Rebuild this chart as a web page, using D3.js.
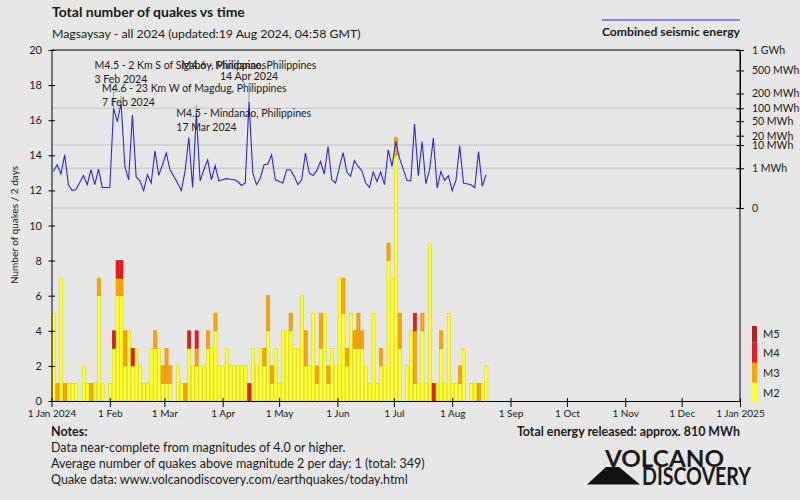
<!DOCTYPE html>
<html><head><meta charset="utf-8">
<script src="https://cdn.jsdelivr.net/npm/d3@7"></script>
<style>
body{margin:0;background:#e6e6e6}
svg{display:block}
text{font-family:Lato,"Open Sans","Noto Sans",sans-serif;fill:#1a1a1a}
</style>
</head><body>
<svg id="c" width="800" height="500"></svg>
<script>
// ---------- DATA ----------
const binStart = "2024-01-01";   // bins of 2 days
const m2Counts = [5,0,7,0,1,1,1,0,2,1, 0,1,6,1,0,1,3,6,6,2, 4,2,3,2,1,1,3,3,3,1,
  1,1,0,2,1,0,3,2,2,2, 2,3,3,4,2,2,3,2,2,2, 2,2,0,3,2,3,2,4,1,3, 1,4,4,4,3,3,6,2,2,5,
  1,3,5,1,3,2,7,5,2,5, 3,3,3,2,1,5,1,2,2,8, 7,14,3,0,2,4,1,1,4,1, 9,0,1,3,1,5,1,1,1,3, 0,1,1,0,1,2];
const m3Counts = [0,1,0,1,0,0,0,0,0,0, 1,0,1,0,0,0,0,1,1,2, 0,0,0,0,0,0,0,1,0,1,
  2,1,0,0,0,1,0,0,1,0, 0,1,0,1,0,0,0,0,0,0, 0,0,0,0,0,0,1,2,1,0, 0,0,0,1,0,0,0,2,0,0,
  1,2,0,1,0,0,0,2,1,0, 1,2,1,0,0,0,0,1,0,1, 0,1,2,0,0,0,3,0,1,0, 0,0,0,1,0,0,0,0,1,0, 0,0,0,1,0,0];
const m4Counts = [0,0,0,0,0,0,0,0,0,0, 0,0,0,0,0,0,1,1,1,0, 0,1,0,0,0,0,0,0,0,0,
  0,0,0,0,0,0,1,0,1,0, 0,0,0,0,0,0,0,0,0,0, 0,0,1,0,0,0,0,0,0,0, 0,0,0,0,0,0,0,0,0,0,
  0,0,0,0,0,0,0,0,0,0, 0,0,0,0,0,0,0,0,0,0, 0,0,0,0,0,0,1,0,0,0, 0,1,0,0,0,0,0,0,0,0, 0,0,0,0,0,0];
// combined seismic energy per bin, MWh (null = no quakes)
const energyMWh = [0.66,1.53,0.46,4.3,0.069,0.016,0.021,null,0.37,0.069,
  0.83,0.069,0.91,0.037,null,0.037,100,49,128,1.25,
  0.18,71,0.29,0.15,0.016,0.41,0.098,6.2,0.37,1.53,
  5.1,0.83,null,0.10,0.016,0.66,17.6,0.037,78,0.15,
  0.83,2.6,0.18,1.36,0.15,0.18,0.22,0.20,0.18,0.13,
  0.059,0.098,138,0.53,0.069,0.24,1.53,1.66,4.3,0.18,
  0.13,0.098,0.83,0.83,0.32,0.069,0.18,5.1,0.53,0.37,
  0.73,2.2,0.46,8.9,0.18,0.098,1.07,5.3,0.61,0.32,
  2.4,1.25,0.73,0.098,0.037,0.61,0.13,0.61,0.069,6.8,
  1.25,13.2,3.1,null,0.16,0.15,43,0.35,13.2,0.085,
  0.83,16.9,0.032,0.66,0.16,0.35,0.016,0.16,9.4,0.098,
  null,0.069,0.035,5.8,0.047,0.41];
const countTicks = [0,2,4,6,8,10,12,14,16,18,20];
const monthLabels = ["1 Jan 2024","1 Feb","1 Mar","1 Apr","1 May","1 Jun","1 Jul","1 Aug","1 Sep","1 Oct","1 Nov","1 Dec","1 Jan 2025"];
const energyTicks = [0,1,10,20,50,100,200,500,1000];
const energyTickLabels = ["0","1 MWh","10 MWh","20 MWh","50 MWh","100 MWh","200 MWh","500 MWh","1 GWh"];
const energyGrid = [0,1,10,100];
const annTitles = ["M4.5 - 2 Km S of Sigaboy, Philippines","M4.6 - 23 Km W of Magdug, Philippines","M4.5 - Mindanao, Philippines","M4.6 - Mindanao, Philippines"];
const annDates = ["3 Feb 2024","7 Feb 2024","17 Mar 2024","14 Apr 2024"];
const annBins = [16,18,38,52];
const magLabels = ["M2","M3","M4","M5"];
const notes = ["Data near-complete from magnitudes of 4.0 or higher.",
  "Average number of quakes above magnitude 2 per day: 1 (total: 349)",
  "Quake data: www.volcanodiscovery.com/earthquakes/today.html"];

// ---------- LAYOUT / STYLE ----------
const annLayout = [ {dx:-19, anchor:"start", y:69, top:86},
                    {dx:-19, anchor:"start", y:92, top:96},
                    {dx:-20, anchor:"start", y:117, top:105},
                    {dx:0, anchor:"middle", y:69, top:83} ];
const magColors = ["#ffff33","#ffa500","#ee1a1a","#b22222"];
const magStroke = ["#d6d61c","#d88c00","#c01010","#901a1a"];

const svg = d3.select("#c");
svg.append("rect").attr("width",800).attr("height",500).attr("fill","#e6e6e6");

const t0 = d3.utcParse("%Y-%m-%d")(binStart);
const x = d3.scaleUtc().domain([t0, d3.utcYear.offset(t0,1)]).range([51.5,740]);
const y = d3.scaleLinear().domain([0,20]).range([401,50]);
const e = d3.scalePow().exponent(0.2).domain([0,1000]).range([y(11), y(20)]);

// gridlines
svg.append("g").selectAll("line").data(energyGrid).join("line")
  .attr("x1",x.range()[0]).attr("x2",x.range()[1])
  .attr("y1",d=>e(d)).attr("y2",d=>e(d))
  .attr("stroke","#cdcdcd").attr("stroke-width",1.5);

// bars
const bins = m2Counts.map((v,i)=>({i, s:d3.utcDay.offset(t0,2*i), t:d3.utcDay.offset(t0,2*i+2),
  m2:v, m3:m3Counts[i], m4:m4Counts[i], en:energyMWh[i]}));
const keys = ["m2","m3","m4"];
const stacked = d3.stack().keys(keys)(bins);
svg.append("g").selectAll("g").data(stacked).join("g")
  .attr("fill",(d,i)=>magColors[i]).attr("stroke",(d,i)=>magStroke[i]).attr("stroke-width",0.6)
  .selectAll("rect").data(d=>d.filter(p=>p[1]>p[0])).join("rect")
  .attr("x",p=>x(p.data.s)+0.6).attr("width",p=>x(p.data.t)-x(p.data.s)-0.6)
  .attr("y",p=>y(p[1])).attr("height",p=>y(p[0])-y(p[1]));

// energy line
const cx = b => (x(b.s)+x(b.t))/2;
const lineData = bins.filter(b=>b.en!=null);
svg.append("path").datum(lineData)
  .attr("d", d3.line().x(cx).y(b=>e(b.en)))
  .attr("fill","none").attr("stroke","#2a2ac4").attr("stroke-width",1.1);

// annotations
annBins.forEach((bi,k)=>{
  const b = bins[bi], L = annLayout[k], px = cx(b);
  svg.append("line").attr("x1",px).attr("x2",px).attr("y1",L.top).attr("y2",e(b.en))
    .attr("stroke","#9a9a9a").attr("stroke-width",1);
  const g = svg.append("g").attr("font-size",10.5);
  g.append("text").attr("x",px+L.dx).attr("y",L.y).attr("text-anchor",L.anchor).text(annTitles[k]).attr("fill","#333");
  g.append("text").attr("x",px+L.dx).attr("y",L.y+(L.anchor==="middle"?11:13.5)).attr("text-anchor",L.anchor).text(annDates[k]).attr("fill","#333");
});

// axes
const gl = svg.append("g").attr("transform","translate(51.5,0)")
  .call(d3.axisLeft(y).tickValues(countTicks).tickSize(3).tickPadding(6.5).tickSizeOuter(0));
gl.selectAll(".tick line").attr("x1",3.5);
const gr = svg.append("g").attr("transform","translate(740,0)")
  .call(d3.axisRight(e).tickValues(energyTicks).tickFormat((d,i)=>energyTickLabels[i]).tickSize(4).tickPadding(8).tickSizeOuter(0));
gr.selectAll(".tick line").attr("x1",-3.5);
svg.append("line").attr("x1",740).attr("x2",740).attr("y1",50).attr("y2",401).attr("stroke","#000");
const monthDates = d3.utcMonth.range(t0, d3.utcDay.offset(d3.utcYear.offset(t0,1),1));
const gb = svg.append("g").attr("transform","translate(0,401)")
  .call(d3.axisBottom(x).tickValues(monthDates).tickFormat((d,i)=>monthLabels[i]).tickSize(6).tickPadding(3).tickSizeOuter(0));
gb.selectAll(".tick line").attr("y1",-3);
[gl,gr,gb].forEach(g=>{
  g.selectAll("text").attr("font-family","Lato, sans-serif").attr("fill","#1a1a1a");
  g.selectAll("path.domain, line").attr("stroke","#000");
});
gl.selectAll("text").attr("font-size",11);
gr.selectAll("text").attr("font-size",10.5);
gb.selectAll("text").attr("font-size",10);
svg.append("line").attr("x1",51.5).attr("x2",740).attr("y1",50).attr("y2",50).attr("stroke","#000");

svg.append("text").attr("transform","translate(18,225) rotate(-90)").attr("text-anchor","middle")
  .attr("font-size",10).text("Number of quakes / 2 days");

// titles
svg.append("text").attr("x",52).attr("y",17).attr("font-size",14).attr("font-weight","bold").text("Total number of quakes vs time");
svg.append("text").attr("x",52).attr("y",37.5).attr("font-size",12.3).text("Magsaysay - all 2024 (updated:19 Aug 2024, 04:58 GMT)");
svg.append("line").attr("x1",602).attr("x2",740).attr("y1",20).attr("y2",20).attr("stroke","#2a2ac4").attr("stroke-width",1);
svg.append("text").attr("x",740).attr("y",36).attr("text-anchor","end").attr("font-size",12.2).attr("font-weight","bold").text("Combined seismic energy");

// magnitude legend
const legY = [382.7,362.7,342.7,326];
const legH = [20,20,20,16.7];
magLabels.forEach((m,i)=>{
  svg.append("rect").attr("x",752).attr("width",5).attr("y",legY[i]).attr("height",legH[i]).attr("fill",magColors[i]);
  svg.append("text").attr("x",763).attr("y",legY[i]+legH[i]/2+4).attr("font-size",11).text(m);
});

// notes
svg.append("text").attr("x",51).attr("y",436).attr("font-size",12.5).attr("font-weight","bold").text("Notes:");
notes.forEach((n,i)=>svg.append("text").attr("x",51).attr("y",451.5+i*16).attr("font-size",12.5).text(n));
svg.append("text").attr("x",740).attr("y",435.5).attr("text-anchor","end").attr("font-size",12.4).attr("font-weight","bold").text("Total energy released: approx. 810 MWh");

// logo
svg.append("polygon").attr("points","587,484.5 606,467 619,467 640,484.5").attr("fill","#111");
svg.append("text").attr("x",605).attr("y",467).attr("font-family","Liberation Sans, Arial, sans-serif")
  .attr("font-weight","bold").attr("font-size",23).attr("textLength",119).attr("lengthAdjust","spacingAndGlyphs")
  .attr("fill","#111").text("VOLCANO");
svg.append("text").attr("x",642).attr("y",485).attr("font-family","Liberation Sans Narrow, Liberation Sans, Arial, sans-serif")
  .attr("font-weight","bold").attr("font-size",24).attr("textLength",109).attr("lengthAdjust","spacingAndGlyphs")
  .attr("fill","#cc2229").text("DISCOVERY");
</script>
</body></html>
